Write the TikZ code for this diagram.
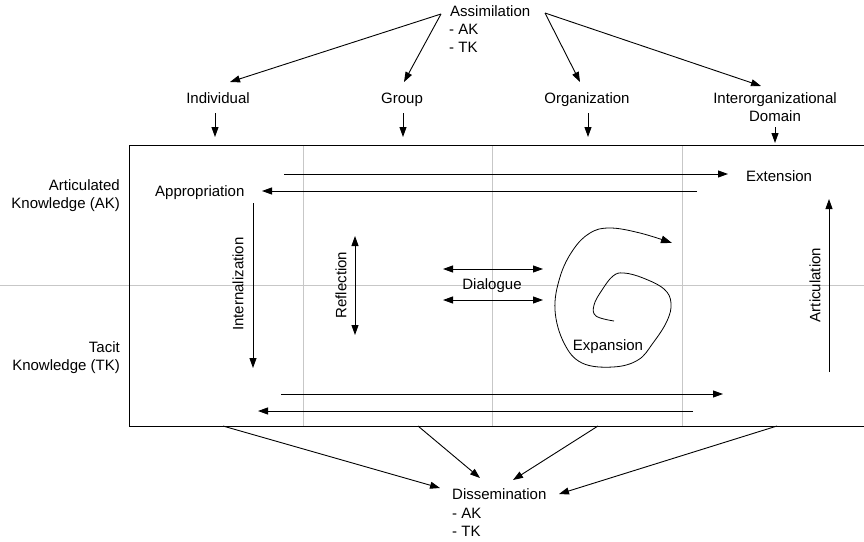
\documentclass[tikz,border=0pt]{standalone}
\usepackage{fontspec}
\setmainfont{Liberation Sans}
\usetikzlibrary{arrows.meta}
\begin{document}
\begin{tikzpicture}[x=1pt,y=-1pt,
  lbl/.style={font=\fontsize{15}{18}\selectfont, inner sep=0pt},
  arr/.style={line width=0.9pt, -{Triangle[length=10pt,width=7pt]}},
  dbl/.style={line width=0.9pt, {Triangle[length=10pt,width=7pt]}-{Triangle[length=10pt,width=7pt]}},
  grid/.style={line width=1pt, draw=black!22}]
\useasboundingbox (0,0) rectangle (864,541);

% background grid of the matrix
\draw[grid] (0,285) -- (864,285);
\foreach \gx in {303,492,682} \draw[grid] (\gx,145) -- (\gx,426);
% matrix frame (open to the right)
\draw[line width=0.9pt] (864,145) -| (129,426) -- (864,426);

% assimilation source
\node[lbl, anchor=base west] (assim) at (450,16) {Assimilation};
\node[lbl, anchor=base west] (assimak) at (449,34) {- AK};
\node[lbl, anchor=base west] (assimtk) at (449,52) {- TK};
\coordinate (aL) at (441,14);
\coordinate (aR) at (545,13);

% levels
\node[lbl, anchor=base] (ind) at (218,103) {Individual};
\node[lbl, anchor=base] (grp) at (402,103) {Group};
\node[lbl, anchor=base] (org) at (587,103) {Organization};
\node[lbl, anchor=base, align=center] (inter) at (775,121) {Interorganizational\\Domain};

\coordinate (tInd) at (230,82);
\coordinate (tGrp) at (404,82);
\coordinate (tOrg) at (580,82);
\coordinate (tInt) at (761,86);
\draw[arr] (aL) -- (tInd);
\draw[arr] (aL) -- (tGrp);
\draw[arr] (aR) -- (tOrg);
\draw[arr] (aR) -- (tInt);

% arrows into the matrix
\coordinate (dInd) at (215,137);
\coordinate (dGrp) at (403,137);
\coordinate (dOrg) at (588,137);
\coordinate (dInt) at (775,143);
\draw[arr] (215,113) -- (dInd);
\draw[arr] (403,113) -- (dGrp);
\draw[arr] (588,113) -- (dOrg);
\draw[arr] (775,127) -- (dInt);

% knowledge rows
\node[lbl, anchor=base east, align=right] (ak) at (120,208) {Articulated\\Knowledge (AK)};
\node[lbl, anchor=base east, align=right] (tk) at (120,370) {Tacit\\Knowledge (TK)};

% top pair
\node[lbl, anchor=base west] (approp) at (155,196) {Appropriation};
\node[lbl, anchor=base west] (ext) at (746,181) {Extension};
\coordinate (e1) at (284,174);
\coordinate (e2) at (728,174);
\coordinate (p1) at (697,191);
\coordinate (p2) at (262,191);
\draw[arr] (e1) -- (e2);
\draw[arr] (p1) -- (p2);

% internalization
\coordinate (i1) at (253,203);
\coordinate (i2) at (253,368);
\draw[arr] (i1) -- (i2);
\node[lbl, rotate=90] (intern) at (238,284) {Internalization};

% reflection
\coordinate (r1) at (355,236);
\coordinate (r2) at (355,335);
\draw[dbl] (r1) -- (r2);
\node[lbl, rotate=90] (refl) at (341,285) {Reflection};

% dialogue
\coordinate (d1) at (443,269);
\coordinate (d2) at (543,269);
\coordinate (d3) at (443,300);
\coordinate (d4) at (543,300);
\draw[dbl] (d1) -- (d2);
\draw[dbl] (d3) -- (d4);
\node[lbl, anchor=base] (dial) at (492,289) {Dialogue};

% expansion spiral
\draw[line width=0.8pt, -{Triangle[length=11pt,width=7.5pt]}] plot[smooth, tension=0.65] coordinates {
 (614,321) (596,316) (594,305) (602,290) (613,276) (624,273) (643,278)
 (664,289) (671,303) (667,321) (653,343) (638,360) (613,367) (582,363)
 (564,343) (555,310) (560,277) (573,250) (590,233) (610,228) (640,233) (672,243)};
\node[lbl, anchor=base] (expan) at (608,350) {Expansion};

% articulation
\coordinate (c1) at (829,372);
\coordinate (c2) at (829,199);
\draw[arr] (c1) -- (c2);
\node[lbl, rotate=90] (artic) at (815,285) {Articulation};

% bottom pair
\coordinate (b1) at (281,394);
\coordinate (b2) at (723,394);
\coordinate (b3) at (693,411);
\coordinate (b4) at (258,411);
\draw[arr] (b1) -- (b2);
\draw[arr] (b3) -- (b4);

% dissemination target
\node[lbl, anchor=base west] (dissem) at (452,499) {Dissemination};
\node[lbl, anchor=base west] (dissemak) at (452,518) {- AK};
\node[lbl, anchor=base west] (dissemtk) at (452,536) {- TK};
\coordinate (s1) at (223,426);
\coordinate (s2) at (418,426);
\coordinate (s3) at (598,426);
\coordinate (s4) at (777,426);
\coordinate (q1) at (440,488);
\coordinate (q2) at (480,478);
\coordinate (q3) at (513,480);
\coordinate (q4) at (559,494);
\draw[arr] (s1) -- (q1);
\draw[arr] (s2) -- (q2);
\draw[arr] (s3) -- (q3);
\draw[arr] (s4) -- (q4);
\end{tikzpicture}
\end{document}
